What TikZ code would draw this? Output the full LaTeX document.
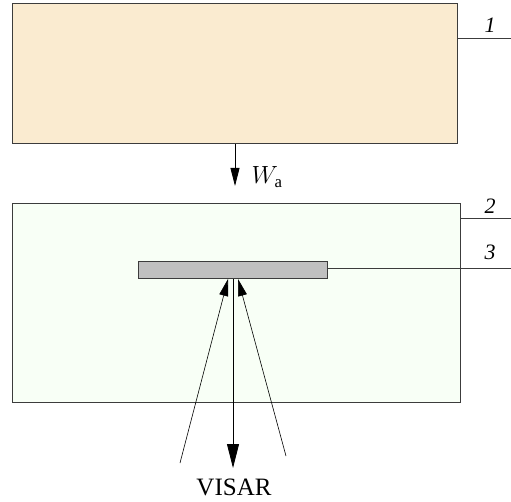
\documentclass[tikz,border=0pt]{standalone}
\usepackage{fontspec}
\setmainfont{Liberation Serif}
\usetikzlibrary{arrows.meta, positioning}
\definecolor{SourceBg}  {RGB}{250,235,208}
\definecolor{TargetBg}  {RGB}{248,255,246}
\definecolor{PlateGray} {RGB}{192,192,192}
\definecolor{EdgeGray}  {RGB}{ 60, 60, 60}
\tikzset{
  % Large boxes
  block/.style={
    rectangle, draw=EdgeGray, line width=1pt,
    anchor=north west, inner sep=0pt
  },
  % Thin sample plate
  plate/.style={
    rectangle, draw=EdgeGray, fill=PlateGray, line width=1pt,
    anchor=north west, inner sep=0pt,
    minimum width=189pt, minimum height=17pt
  },
  % Leader lines to the numbers
  leader/.style={draw=EdgeGray, line width=0.9pt},
  % Part numbers
  partno/.style={font=\fontsize{22}{24}\selectfont\itshape, inner sep=0pt},
  % Arrows
  flow/.style={
    -{Triangle[length=18pt,width=9pt]}, line width=0.8pt, color=black
  },
  beam/.style={
    -{Triangle[length=17pt,width=9pt]}, line width=0.6pt, color=black
  }
}
\begin{document}
\begin{tikzpicture}[x=1pt, y=-1pt]
  \useasboundingbox (0,0) rectangle (511,502);

  % -- Boxes --------------------------------------------------------------
  \node[block, fill=SourceBg, minimum width=445pt, minimum height=140pt]
        (source) at (12,3) {};
  \node[block, fill=TargetBg, minimum width=448pt, minimum height=199pt]
        (target) at (12,203) {};
  \node[plate] (sample) at (138,261) {};

  % -- Leader lines and numbers -------------------------------------------
  \coordinate (tag1) at (511,38);
  \coordinate (tag2) at (511,218);
  \coordinate (tag3) at (511,268);
  \draw[leader] (source.east |- tag1) -- (tag1);
  \draw[leader] (target.east |- tag2) -- (tag2);
  \draw[leader] (sample.east |- tag3) -- (tag3);
  \node[partno] (no1) at (490,25)  {1};
  \node[partno] (no2) at (490,206) {2};
  \node[partno] (no3) at (490,252) {3};

  % -- Energy flux ----------------------------------------------------------
  \coordinate (fluxend) at (source.south |- 0,186);
  \draw[flow] (source.south) -- (fluxend);
  \node[font=\fontsize{24}{26}\selectfont, anchor=west]
        (flux) at (248,177) {$W_{\mathrm{a}}$};

  % -- VISAR beams ----------------------------------------------------------
  \coordinate (beamL) at (180,463);
  \coordinate (beamR) at (286,456);
  \coordinate (probe) at (sample.south |- 0,468);
  \draw[beam] (beamL) -- ([xshift=-5pt]sample.south);
  \draw[beam] (beamR) -- ([xshift=5pt]sample.south);
  \draw[flow, -{Triangle[length=24pt,width=12pt]}] (sample.south) -- (probe);
  \node[font=\fontsize{25}{28}\selectfont] (visar) at (234,487) {VISAR};
\end{tikzpicture}
\end{document}
